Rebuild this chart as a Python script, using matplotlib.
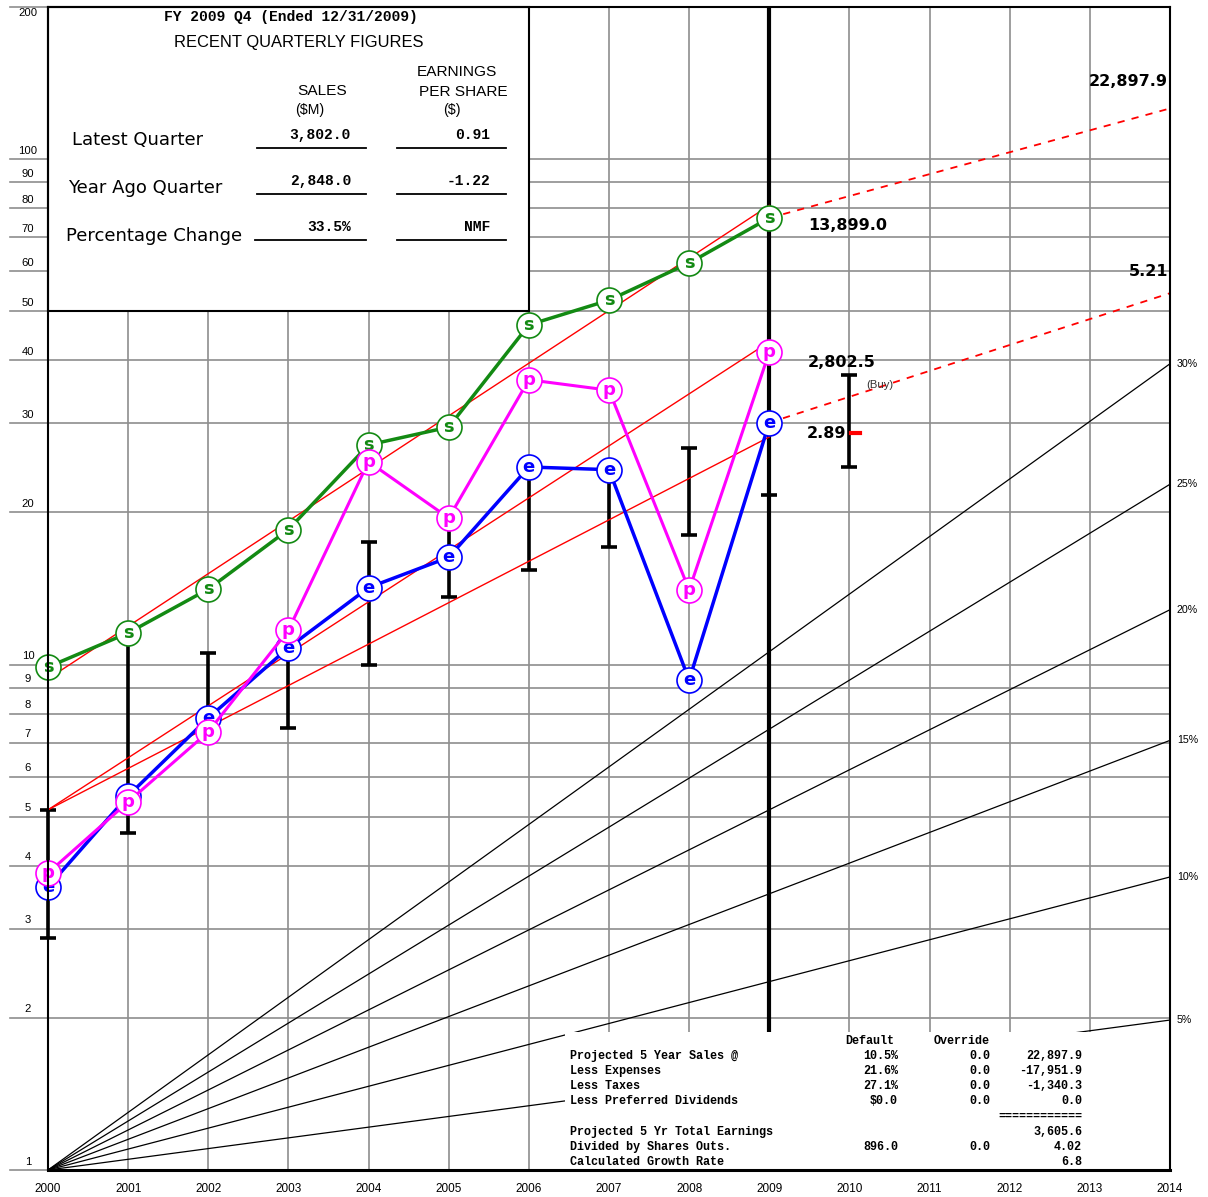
import numpy as np
import matplotlib.pyplot as plt
from matplotlib.patches import Rectangle
from matplotlib.ticker import NullLocator
from matplotlib import font_manager

# Dados (escala relativa do grafico)
years = [2000, 2001, 2002, 2003, 2004, 2005, 2006, 2007, 2008, 2009]
sales_s = [9.89, 11.55, 14.1, 18.5, 27.2, 29.5, 47.0, 52.6, 62.3, 76.5]
pretax_p = [3.87, 5.35, 7.36, 11.7, 25.2, 19.5, 36.6, 34.9, 14.05, 41.5]
eps_e = [3.63, 5.5, 7.84, 10.8, 14.2, 16.3, 24.6, 24.3, 9.32, 30.1]

range_years = [2000, 2001, 2002, 2003, 2004, 2005, 2006, 2007, 2008, 2009, 2010]
price_hi = [5.16, 11.5, 10.54, 10.8, 17.5, 19.0, 24.0, 24.0, 26.8, 41.0, 37.4]
price_lo = [2.88, 4.64, 7.7, 7.49, 9.98, 13.6, 15.4, 17.1, 18.05, 21.7, 24.6]
eps_current = 28.7

trend_years = [2000, 2009]
sales_trend = [9.37, 81.0]
pretax_trend = [5.16, 43.5]
eps_trend = [5.16, 28.2]

proj_years = [2009, 2014]
sales_proj = [76.5, 126.0]
eps_proj = [30.1, 54.3]

growth_labels = ['5%', '10%', '15%', '20%', '25%', '30%']
growth_end = [1.98, 3.80, 7.08, 12.84, 22.74, 39.37]

y_levels = [1, 2, 3, 4, 5, 6, 7, 8, 9, 10, 20, 30, 40, 50, 60, 70, 80, 90, 100, 200]
y_grid = [2, 3, 4, 5, 6, 7, 8, 9, 10, 20, 30, 40, 50, 60, 70, 80, 90, 100]
x_years = list(range(2000, 2015))

quarter_rows = ['Latest Quarter', 'Year Ago Quarter', 'Percentage Change']
quarter_sales = ['3,802.0', '2,848.0', '33.5%']
quarter_eps = ['0.91', '-1.22', 'NMF']

proj_labels = ['Projected 5 Year Sales @', 'Less Expenses', 'Less Taxes',
               'Less Preferred Dividends', 'Projected 5 Yr Total Earnings',
               'Divided by Shares Outs.', 'Calculated Growth Rate']
proj_default = ['10.5%', '21.6%', '27.1%', '$0.0', '', '896.0', '']
proj_override = ['0.0', '0.0', '0.0', '0.0', '', '0.0', '']
proj_values = ['22,897.9', '-17,951.9', '-1,340.3', '0.0', '3,605.6', '4.02', '6.8']

# Fontes
_names = {f.name for f in font_manager.fontManager.ttflist}
if 'Liberation Sans Narrow' in _names:
    NARROW, NS = 'Liberation Sans Narrow', 1.0
else:
    NARROW, NS = 'Liberation Sans', 0.85
MONO = 'Liberation Mono'
SANS = 'DejaVu Sans'

W, H = 1208, 1197
L, R, T, B = 48, 1170, 7, 1170


def P(x, y):
    # pixel -> coordenada da figura
    return x / W, 1 - y / H


fig = plt.figure(figsize=(W / 100, H / 100), dpi=100)
ax = fig.add_axes([L / W, 1 - B / H, (R - L) / W, (B - T) / H])
ax.set_yscale('log')
ax.set_xlim(2000, 2014)
ax.set_ylim(1, 200)
ax.yaxis.set_major_locator(NullLocator())
ax.yaxis.set_minor_locator(NullLocator())
ax.set_xticks(x_years)
ax.set_xticklabels([str(y) for y in x_years], family=NARROW, fontsize=10 * NS)
ax.tick_params(axis='x', length=0, pad=9)
for sp in ax.spines.values():
    sp.set_linewidth(1.5)
    sp.set_zorder(12)
ax.spines['bottom'].set_linewidth(2.2)

# Grade
GRID = '#8e8e8e'
for v in y_grid:
    ax.axhline(v, color=GRID, lw=1.2, zorder=0.5)
for yr in range(2001, 2014):
    ax.axvline(yr, color=GRID, lw=1.2, zorder=0.5)

ytr = ax.get_yaxis_transform()
for v in y_levels:
    ax.plot([-38 / (R - L), 0], [v, v], transform=ytr, color=GRID, lw=1.2,
            clip_on=False)
    if v == 200:
        ax.annotate(str(v), xy=(-20 / (R - L), v), xycoords=ytr, xytext=(0, -1),
                    textcoords='offset points', ha='center', va='top',
                    family=NARROW, fontsize=9.5 * NS)
    else:
        ax.annotate(str(v), xy=(-20 / (R - L), v), xycoords=ytr, xytext=(0, 2.5),
                    textcoords='offset points', ha='center', va='bottom',
                    family=NARROW, fontsize=9.5 * NS)

# Linhas de crescimento
for end, lab in zip(growth_end, growth_labels):
    ax.plot([2000, 2014], [1, end], color='black', lw=0.9, zorder=1)
    ax.annotate(lab, xy=(2014, end), xytext=(5, 0), textcoords='offset points',
                ha='left', va='center', family=NARROW, fontsize=9 * NS,
                annotation_clip=False)

# Faixas de preco
ax.vlines(range_years, price_lo, price_hi, colors='black', lw=2.6, zorder=2.5,
          clip_on=False)
ax.plot(range_years, price_hi, '_', color='black', ms=11, mew=2.6, zorder=2.5,
        clip_on=False)
ax.plot(range_years, price_lo, '_', color='black', ms=11, mew=2.6, zorder=2.5,
        clip_on=False)
ax.plot([2010.02, 2010.13], [eps_current, eps_current], color='red', lw=3, zorder=2.6)

# Linha vertical do ano atual
ax.plot([2009, 2009], [1, 200], color='black', lw=3, zorder=2.6)

# Tendencias
ax.plot(trend_years, sales_trend, color='red', lw=1.0, zorder=3.5)
ax.plot(trend_years, pretax_trend, color='red', lw=1.0, zorder=3.5)
ax.plot(trend_years, eps_trend, color='red', lw=1.0, zorder=3.5)
ax.plot(proj_years, sales_proj, color='red', lw=1.3, dashes=(4, 4), zorder=3.5)
ax.plot(proj_years, eps_proj, color='red', lw=1.3, dashes=(4, 4), zorder=3.5)


def series(vals, color, letter, lw, z):
    ax.plot(years, vals, color=color, lw=lw, zorder=z, clip_on=False)
    ax.plot(years, vals, 'o', ms=18, mfc='white', mec=color, mew=1.2,
            ls='none', zorder=z + 0.1, clip_on=False)
    for x, v in zip(years, vals):
        ax.text(x, v, letter, color=color, ha='center', va='center',
                fontsize=13, fontweight='bold', family=SANS, zorder=z + 0.2)


series(sales_s, '#138a13', 's', 2.5, 4)
series(eps_e, '#0000ff', 'e', 2.5, 5)
series(pretax_p, '#ff00ff', 'p', 2.2, 6)

# Caixa dos numeros trimestrais
ax.add_patch(Rectangle((2000, 50), 6.0, 150, facecolor='white', edgecolor='black',
                       lw=1.5, zorder=9, clip_on=False))
# Caixa da tabela de projecao
ax.add_patch(Rectangle((2006.45, 1), 7.55, 0.876, facecolor='white',
                       edgecolor='none', zorder=9))

fig.text(*P(291, 17), 'FY 2009 Q4 (Ended 12/31/2009)', ha='center', va='center',
         family=MONO, fontweight='bold', fontsize=10.5)
fig.text(*P(299, 43), 'RECENT QUARTERLY FIGURES', ha='center', va='center',
         family=NARROW, fontsize=14 * NS)
fig.text(*P(322, 91), 'SALES', ha='center', va='center', family=NARROW, fontsize=13 * NS)
fig.text(*P(310, 110), '($M)', ha='center', va='center', family=NARROW, fontsize=12 * NS)
fig.text(*P(457, 72), 'EARNINGS', ha='center', va='center', family=NARROW, fontsize=13 * NS)
fig.text(*P(463, 92), 'PER SHARE', ha='center', va='center', family=NARROW, fontsize=13 * NS)
fig.text(*P(452, 110), '($)', ha='center', va='center', family=NARROW, fontsize=12 * NS)

row_y = [140, 188, 236]
row_x = [72, 68, 66]
val_y = [135, 181, 227]
line_y = [148, 194, 240]
for i in range(3):
    fig.text(*P(row_x[i], row_y[i]), quarter_rows[i], ha='left', va='center',
             family=SANS, fontsize=13)
    fig.text(*P(351, val_y[i]), quarter_sales[i], ha='right', va='center',
             family=MONO, fontweight='bold', fontsize=10.5)
    fig.text(*P(490, val_y[i]), quarter_eps[i], ha='right', va='center',
             family=MONO, fontweight='bold', fontsize=10.5)
    x0 = 257 if i < 2 else 255
    fig.add_artist(plt.Line2D([x0 / W, 366 / W], [1 - line_y[i] / H] * 2,
                              color='black', lw=1.3))
    fig.add_artist(plt.Line2D([397 / W, 506 / W], [1 - line_y[i] / H] * 2,
                              color='black', lw=1.3))

# Rotulos a direita
fig.text(*P(808, 225), '13,899.0', ha='left', va='center', family=SANS,
         fontweight='bold', fontsize=11.5)
fig.text(*P(808, 363), '2,802.5', ha='left', va='center', family=SANS,
         fontweight='bold', fontsize=11.5)
fig.text(*P(807, 434), '2.89', ha='left', va='center', family=SANS,
         fontweight='bold', fontsize=11.5)
fig.text(*P(1168, 82), '22,897.9', ha='right', va='center', family=SANS,
         fontweight='bold', fontsize=11.5)
fig.text(*P(1168, 272), '5.21', ha='right', va='center', family=SANS,
         fontweight='bold', fontsize=11.5)
fig.text(*P(866, 385), '(Buy)', ha='left', va='center', family=NARROW,
         fontsize=9.5 * NS, color='#333333')

# Tabela de projecao
fig.text(*P(870, 1041), 'Default', ha='center', va='center', family=MONO,
         fontweight='bold', fontsize=8.5)
fig.text(*P(990, 1041), 'Override', ha='right', va='center', family=MONO,
         fontweight='bold', fontsize=8.5)
tab_y = [1056, 1071, 1086, 1101, 1132, 1147, 1162]
for i in range(len(proj_labels)):
    fig.text(*P(570, tab_y[i]), proj_labels[i], ha='left', va='center',
             family=MONO, fontweight='bold', fontsize=8.5)
    fig.text(*P(898, tab_y[i]), proj_default[i], ha='right', va='center',
             family=MONO, fontweight='bold', fontsize=8.5)
    fig.text(*P(990, tab_y[i]), proj_override[i], ha='right', va='center',
             family=MONO, fontweight='bold', fontsize=8.5)
    fig.text(*P(1082, tab_y[i]), proj_values[i], ha='right', va='center',
             family=MONO, fontweight='bold', fontsize=8.5)
fig.text(*P(1082, 1117), '============', ha='right', va='center', family=MONO,
         fontweight='bold', fontsize=8.5)

fig.savefig('out.png', dpi=100)
